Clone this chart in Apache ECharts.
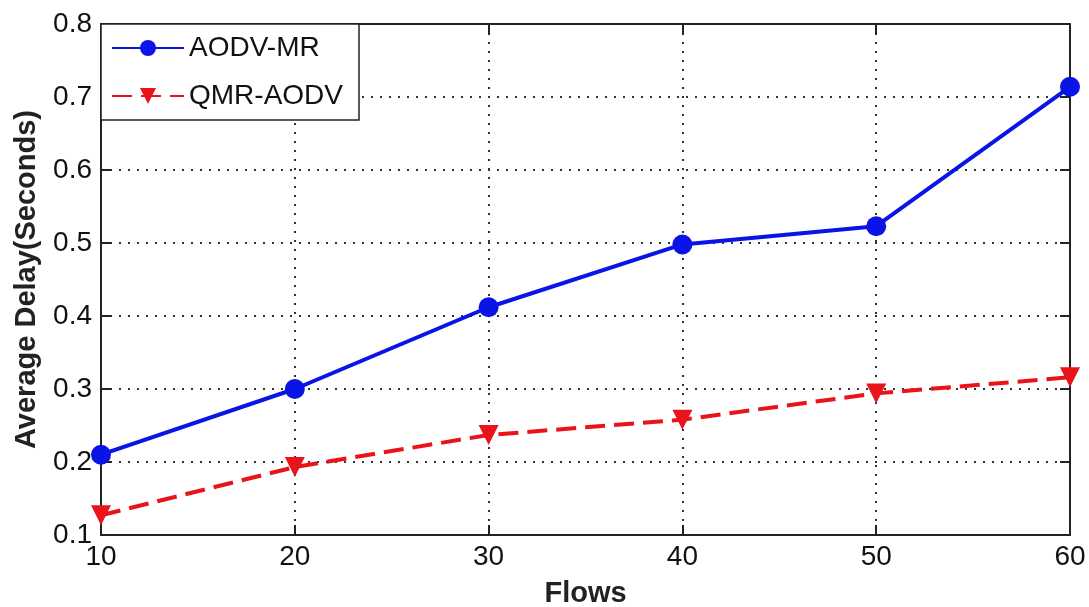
<!DOCTYPE html>
<html>
<head>
<meta charset="utf-8">
<script src="https://cdn.jsdelivr.net/npm/echarts@6/dist/echarts.min.js"></script>
<style>
  html, body { margin: 0; padding: 0; background: #fff; }
  #chart { width: 1089px; height: 607px; }
</style>
</head>
<body>
<div id="chart"></div>
<script>
// 数据
const flows = [10, 20, 30, 40, 50, 60];
const aodvMr = [0.21, 0.30, 0.412, 0.498, 0.523, 0.714];
const qmrAodv = [0.127, 0.193, 0.237, 0.258, 0.294, 0.316];

const chart = echarts.init(document.getElementById('chart'));

const font = 'Liberation Sans, Arial, sans-serif';

const toPairs = (xs, ys) => xs.map((x, i) => [x, ys[i]]);

// 坐标轴公共样式
const lineCol = '#222';
const tick = { show: true, inside: true, length: 10, lineStyle: { color: lineCol, width: 2 } };
const axLine = { show: true, onZero: false, lineStyle: { color: lineCol, width: 2 } };
const dotted = { show: true, lineStyle: { color: '#333', type: [2, 7], width: 2 } };

const option = {
  backgroundColor: '#fff',
  animation: false,
  grid: { left: 101, right: 19, top: 24, bottom: 72, show: false, outerBoundsMode: 'none' },
  legend: {
    left: 101, top: 24,
    orient: 'vertical',
    backgroundColor: '#fff',
    borderColor: '#222',
    borderWidth: 1.5,
    borderRadius: 0,
    padding: [10, 16, 10, 10],
    itemGap: 20,
    itemWidth: 72,
    itemHeight: 20,
    textStyle: { fontFamily: font, fontSize: 28, color: '#111', padding: [2, 0, 0, 0] },
    data: ['AODV-MR', 'QMR-AODV']
  },
  xAxis: [{
    type: 'value', min: 10, max: 60, interval: 10,
    name: 'Flows', nameLocation: 'middle', nameGap: 44,
    nameTextStyle: { fontFamily: font, fontSize: 29, fontWeight: 'bold', color: '#222' },
    axisLine: axLine,
    axisTick: tick,
    axisLabel: { fontFamily: font, fontSize: 28, color: '#111', margin: 8 },
    splitLine: dotted
  }, {
    type: 'value', min: 10, max: 60, interval: 10, position: 'top',
    axisLine: axLine, axisTick: tick,
    axisLabel: { show: false }, splitLine: { show: false }
  }],
  yAxis: [{
    type: 'value', min: 0.1, max: 0.8, interval: 0.1,
    name: 'Average Delay(Seconds)', nameLocation: 'middle', nameGap: 60,
    nameTextStyle: { fontFamily: font, fontSize: 29, fontWeight: 'bold', color: '#222' },
    axisLine: axLine,
    axisTick: tick,
    axisLabel: { fontFamily: font, fontSize: 28, color: '#111', margin: 9,
      formatter: v => v.toFixed(1) },
    splitLine: dotted
  }, {
    type: 'value', min: 0.1, max: 0.8, interval: 0.1, position: 'right',
    axisLine: axLine, axisTick: tick,
    axisLabel: { show: false }, splitLine: { show: false }
  }],
  series: [{
    name: 'AODV-MR',
    type: 'line',
    data: toPairs(flows, aodvMr),
    color: '#0a14e6',
    lineStyle: { width: 4 },
    symbol: 'circle',
    symbolSize: 20,
    z: 3
  }, {
    name: 'QMR-AODV',
    type: 'line',
    data: toPairs(flows, qmrAodv),
    color: '#e8141a',
    lineStyle: { width: 4, type: [20, 9] },
    symbol: 'triangle',
    symbolRotate: 180,
    symbolSize: 20,
    z: 3
  }]
};

chart.setOption(option);
</script>
</body>
</html>
